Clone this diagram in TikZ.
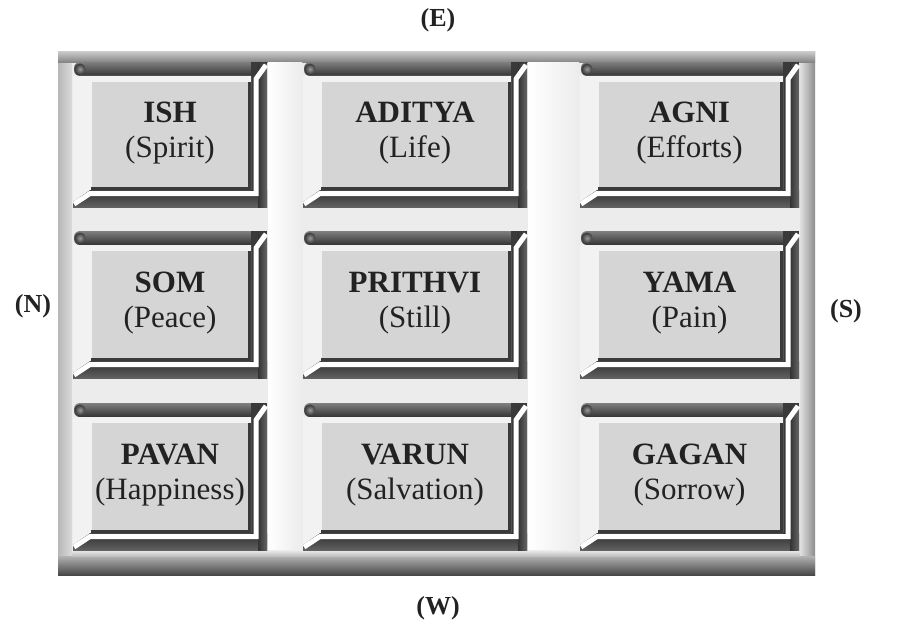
\documentclass[tikz,border=0pt]{standalone}
\usepackage{fontspec}
\setmainfont{Liberation Serif}
\definecolor{tiledark}{HTML}{3A3A3A}
\definecolor{tilelight}{HTML}{F2F2F2}
\definecolor{tileface}{HTML}{D5D5D5}
\definecolor{inktext}{HTML}{222222}
\definecolor{frameinner}{HTML}{ECECEC}
\tikzset{
  tiletext/.style={text=inktext, align=center, font=\fontsize{31}{35}\selectfont, inner sep=0pt},
  dirlabel/.style={text=inktext, font=\fontsize{26}{30}\selectfont\bfseries, inner sep=0pt},
  bevelline/.style={white, line width=5pt, line join=miter},
  faceshadow/.style={tiledark, line width=3pt},
}
% #1 x0, #2 y0, #3 x1, #4 y1, #5 node name, #6 title, #7 subtitle
\newcommand\vastutile[7]{%
  \fill[tiledark] (#3-16,#2) rectangle (#3,#4);
  \shade[top color=black!50, bottom color=black!80, rounded corners=6pt] (#1+1,#2) rectangle (#3-10,#2+14);
  \fill[tiledark] (#3-16,#2) rectangle (#3,#2+14);
  \shade[top color=black!82, bottom color=black!62] (#1,#4-17) rectangle (#3,#4);
  \shade[left color=black!80, right color=black!60] (#3-9,#2+3) rectangle (#3,#4);
  \shade[inner color=black!40, outer color=black!78] (#1+7,#2+7) circle (5.5);
  \fill[tilelight] (#1,#2+14) -- (#3-16,#2+14) -- (#3-16,#4-17) -- (#1+17,#4-17) -- (#1+1,#4-6) -- (#1,#4-6) -- cycle;
  \fill[tileface] (#1+19,#2+20) rectangle (#3-19,#4-20);
  \draw[faceshadow] (#1+18,#4-18.5) -- (#3-17.5,#4-18.5) -- (#3-17.5,#2+20);
  \draw[bevelline] (#1+1,#4-3) -- (#1+17,#4-13.5) -- (#3-11,#4-13.5) -- (#3-11,#2+17) -- (#3-1,#2+3);
  \node[tiletext] (#5) at ({(#1+#3)/2},{(#2+#4)/2-1}) {\textbf{#6}\\#7};
}
\begin{document}
\begin{tikzpicture}[x=1pt,y=-1pt]
  \useasboundingbox (0,0) rectangle (897,634);
  \fill[white] (0,0) rectangle (897,634);
  % frame
  \fill[black!35] (58,52) rectangle (815,575);
  \shade[left color=black!28, right color=black!14] (58,52) rectangle (72,575);
  \shade[left color=black!12, right color=black!45] (800,52) rectangle (815,575);
  \shade[top color=black!22, bottom color=black!50] (58,52) rectangle (815,63);
  \shade[top color=black!30, bottom color=black!72] (58,556) rectangle (815,575);
  \fill[frameinner] (72,63) rectangle (800,556);
  \shade[left color=white, right color=frameinner] (268,63) rectangle (302,556);
  \shade[left color=white, right color=frameinner] (528,63) rectangle (579,556);
  \shade[top color=frameinner, bottom color=black!25] (72,550) rectangle (800,556);
  % tiles
  \vastutile{73}{62}{267}{207}{ish}{ISH}{(Spirit)}
  \vastutile{303}{62}{527}{207}{aditya}{ADITYA}{(Life)}
  \vastutile{580}{62}{799}{207}{agni}{AGNI}{(Efforts)}
  \vastutile{73}{231}{267}{378}{som}{SOM}{(Peace)}
  \vastutile{303}{231}{527}{378}{prithvi}{PRITHVI}{(Still)}
  \vastutile{580}{231}{799}{378}{yama}{YAMA}{(Pain)}
  \vastutile{73}{403}{267}{550}{pavan}{PAVAN}{(Happiness)}
  \vastutile{303}{403}{527}{550}{varun}{VARUN}{(Salvation)}
  \vastutile{580}{403}{799}{550}{gagan}{GAGAN}{(Sorrow)}
  % directions
  \node[dirlabel] (east) at (438,20) {(E)};
  \node[dirlabel] (north) at (33,306) {(N)};
  \node[dirlabel] (south) at (846,311) {(S)};
  \node[dirlabel] (west) at (438,608) {(W)};
\end{tikzpicture}
\end{document}
